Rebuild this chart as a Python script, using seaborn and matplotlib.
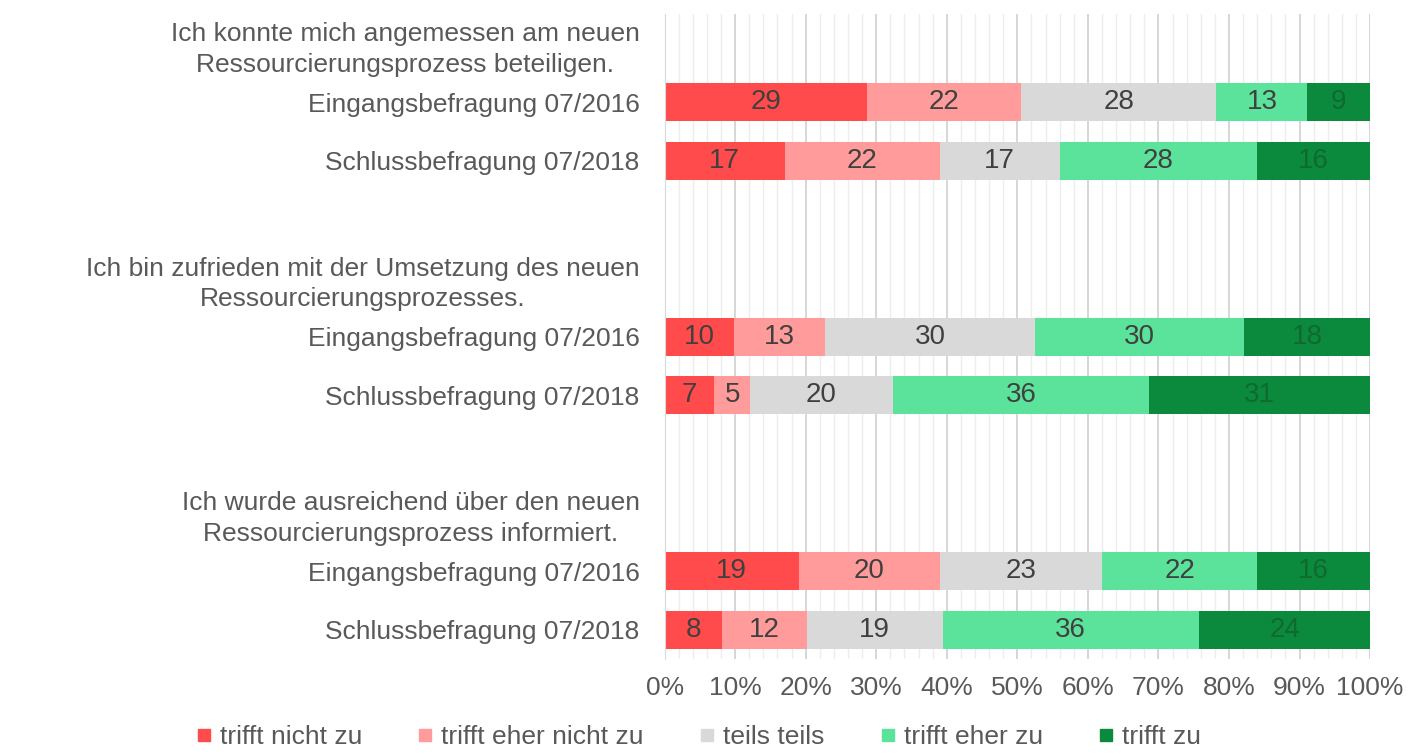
import pandas as pd
import matplotlib.pyplot as plt
import seaborn as sns
from matplotlib.lines import Line2D

#chart data
questions = [
    "Ich konnte mich angemessen am neuen\nRessourcierungsprozess beteiligen.",
    "Ich bin zufrieden mit der Umsetzung des neuen\nRessourcierungsprozesses.",
    "Ich wurde ausreichend über den neuen\nRessourcierungsprozess informiert.",
]
surveys = ["Eingangsbefragung 07/2016", "Schlussbefragung 07/2018"]
categories = ["trifft nicht zu", "trifft eher nicht zu", "teils teils", "trifft eher zu", "trifft zu"]

# one value per bar, in order q1/2016, q1/2018, q2/2016, q2/2018, q3/2016, q3/2018
trifft_nicht_zu = [29, 17, 10, 7, 19, 8]
trifft_eher_nicht_zu = [22, 22, 13, 5, 20, 12]
teils_teils = [28, 17, 30, 20, 23, 19]
trifft_eher_zu = [13, 28, 30, 36, 22, 36]
trifft_zu = [9, 16, 18, 31, 16, 24]

colors = ["#FF4B4B", "#FF9B9B", "#D9D9D9", "#5CE39B", "#0B8A3D"]
label_colors = ["#404040", "#404040", "#404040", "#404040", "#10692F"]
text_grey = "#595959"

sns.set_style("white")
plt.rcParams["font.family"] = ["Liberation Sans", "DejaVu Sans"]

#build the row order: heading slot, two bars, gap slot
order, ticklabels, bar_rows = [], [], []
for qi, q in enumerate(questions):
    if qi > 0:
        order.append(f"gap{qi}")
        ticklabels.append("")
    order.append(f"head{qi}")
    ticklabels.append(q)
    for si, s in enumerate(surveys):
        key = f"q{qi}s{si}"
        order.append(key)
        ticklabels.append(s)
        bar_rows.append(key)

series = [trifft_nicht_zu, trifft_eher_nicht_zu, teils_teils, trifft_eher_zu, trifft_zu]
records = []
for i, row in enumerate(bar_rows):
    total = sum(s[i] for s in series)
    cum = 0
    for k, s in enumerate(series):
        share = s[i] / total * 100
        records.append({"row": row, "category": categories[k], "value": s[i],
                        "start": cum, "end": cum + share})
        cum += share
df = pd.DataFrame(records)

fig, ax = plt.subplots(figsize=(14.14, 7.54), dpi=100)
fig.subplots_adjust(left=0.470, right=0.969, top=0.981, bottom=0.126)

#stacked bars by overlaying cumulative ends, widest first
for k in reversed(range(len(categories))):
    sub = df[df["category"] == categories[k]]
    sns.barplot(data=sub, x="end", y="row", order=order, orient="h", color=colors[k],
                saturation=1, width=0.65, linewidth=0, ax=ax)

for _, r in df.iterrows():
    k = categories.index(r["category"])
    ax.text((r["start"] + r["end"]) / 2, order.index(r["row"]), str(r["value"]),
            ha="center", va="center", fontsize=20, color=label_colors[k])

ax.set_xlim(0, 100)
ax.set_ylim(len(order) - 0.5, -0.5)
ax.set_xticks(range(0, 101, 10))
ax.set_xticks(range(0, 101, 2), minor=True)
ax.set_xticklabels([f"{v}%" for v in range(0, 101, 10)])
ax.set_yticks(range(len(order)))
ax.set_yticklabels(ticklabels)
for lab in ax.get_yticklabels():
    lab.set_multialignment("center")
    lab.set_linespacing(1.35)
ax.grid(axis="x", which="major", color="#D0D0D0", linewidth=1.2)
ax.grid(axis="x", which="minor", color="#EDEDED", linewidth=1)
ax.set_axisbelow(True)
ax.tick_params(axis="both", which="both", length=0, labelsize=19, colors=text_grey, pad=12)
ax.tick_params(axis="y", pad=18)
ax.set_xlabel("")
ax.set_ylabel("")
for side in ["top", "right", "bottom"]:
    ax.spines[side].set_visible(False)
ax.spines["left"].set_color("#D9D9D9")

handles = [Line2D([0], [0], marker="s", linestyle="", markersize=8, color=c) for c in colors]
fig.legend(handles, categories, loc="lower center", ncol=5, frameon=False,
           bbox_to_anchor=(0.493, -0.025), fontsize=19, labelcolor=text_grey,
           handlelength=0.8, handletextpad=0.2, columnspacing=2.0)

fig.savefig("out.png", dpi=100)
